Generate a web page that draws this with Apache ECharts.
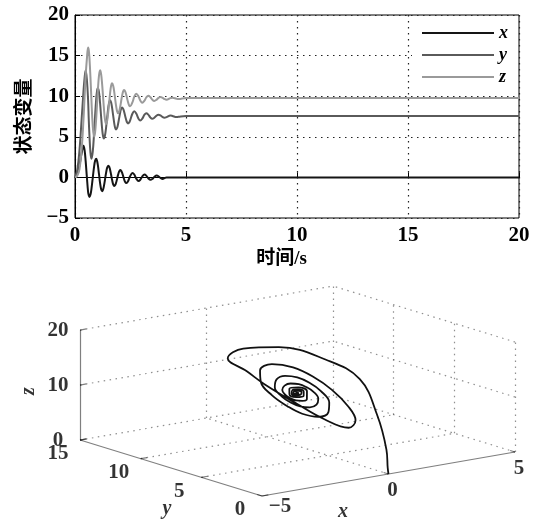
<!DOCTYPE html>
<html>
<head>
<meta charset="utf-8">
<script src="https://cdn.jsdelivr.net/npm/echarts@6/dist/echarts.min.js"></script>
<style>
  html, body { margin: 0; padding: 0; background: #fff; }
  #chart { width: 546px; height: 519px; }
</style>
</head>
<body>
<div id="chart"></div>
<script>
// time samples (s) and state values
const timeS = [0, 0.1, 0.2, 0.3, 0.38, 0.43, 0.48, 0.535, 0.59, 0.62,
  0.65, 0.695, 0.74, 0.8, 0.86, 0.905, 0.95, 0.99, 1.03, 1.08,
  1.13, 1.175, 1.22, 1.26, 1.3, 1.35, 1.4, 1.45, 1.5, 1.54,
  1.58, 1.625, 1.67, 1.72, 1.77, 1.81, 1.85, 1.895, 1.94, 1.99,
  2.04, 2.08, 2.12, 2.165, 2.21, 2.26, 2.31, 2.35, 2.39, 2.435, 2.48,
  2.59, 2.67, 2.76, 2.86, 2.94, 3.03, 3.13, 3.21, 3.3, 3.4, 3.48, 3.57,
  3.68, 3.76, 3.85, 3.95, 4.03, 4.12, 4.3, 4.39, 4.57, 4.66, 5, 20];
const stateX = [0, 0.4, 1.5, 3.0, 3.9, 3.38, 2.0, 0.03, -1.8, -2.21,
  -2.4, -2.14, -1.43, -0.05, 1.33, 2.04, 2.3, 2.09, 1.5, 0.42,
  -0.7, -1.43, -1.7, -1.54, -1.11, -0.3, 0.56, 1.21, 1.45, 1.32,
  0.95, 0.35, -0.3, -0.85, -1.05, -0.95, -0.66, -0.19, 0.31, 0.74,
  0.9, 0.81, 0.58, 0.19, -0.22, -0.57, -0.7, -0.64, -0.47, -0.18, 0.13,
  0.55, 0.35, -0.15, -0.45, -0.29, 0.11, 0.35, 0.22, -0.1, -0.3, -0.2, 0.05,
  0.22, 0.14, -0.07, -0.2, -0.08, 0, 0, 0, 0, 0, 0, 0];
const stateY = [0, 0.9, 3.3, 7.2, 10.5, 12.2, 13.2, 12.04, 9.5, 7.1,
  5.22, 3.09, 2.3, 3.18, 5.49, 7.59, 9.46, 10.6, 11.0, 10.49,
  9.13, 7.54, 6.05, 5.13, 4.8, 5.16, 6.13, 7.41, 8.62, 9.27,
  9.5, 9.26, 8.6, 7.6, 6.62, 6.09, 5.9, 6.08, 6.58, 7.33,
  8.06, 8.46, 8.6, 8.47, 8.11, 7.57, 7.04, 6.75, 6.65, 6.74, 7.0,
  7.87, 8.15, 7.86, 7.23, 7.0, 7.23, 7.72, 7.9, 7.73, 7.36, 7.22, 7.34,
  7.63, 7.72, 7.63, 7.42, 7.35, 7.42, 7.62, 7.57, 7.43, 7.47, 7.55, 7.55];
const stateZ = [0, 0.2, 1.0, 3.5, 7.0, 9.8, 12.5, 14.6, 16.0, 15.67,
  14.71, 12.38, 9.54, 6.29, 5.0, 5.55, 7.05, 8.86, 10.72, 12.53,
  13.2, 12.76, 11.55, 10.09, 8.59, 7.14, 6.6, 7.01, 8.11, 9.25,
  10.35, 11.27, 11.6, 11.3, 10.48, 9.64, 8.83, 8.15, 7.9, 8.13,
  8.76, 9.41, 10.04, 10.56, 10.75, 10.59, 10.15, 9.69, 9.25, 8.88, 8.75,
  9.27, 9.94, 10.3, 9.97, 9.48, 9.2, 9.46, 9.84, 10.05, 9.86, 9.58, 9.42,
  9.58, 9.79, 9.9, 9.8, 9.65, 9.56, 9.76, 9.82, 9.69, 9.64, 9.77, 9.77];
const seriesNames = ['x', 'y', 'z'];
const seriesColors = ['#151515', '#5a5a5a', '#9a9a9a'];

// 3D box ticks
const boxX = [-5, 0, 5];
const boxY = [0, 5, 10, 15];
const boxZ = [0, 10, 20];

const serif = "'Liberation Serif', 'Times New Roman', serif";
const mixed = "'Liberation Serif', 'Noto Sans CJK SC', sans-serif";

// oblique projection of the 3D view, in screen pixels
const origin = [262, 496];          // (x=-5, y=0, z=0)
const ux = [25.3, -4.4];
const uy = [-12.13, -3.73];
const uz = [0, -5.5];
function proj(x, y, z) {
  const dx = x - boxX[0];
  return [origin[0] + dx * ux[0] + y * uy[0] + z * uz[0],
          origin[1] + dx * ux[1] + y * uy[1] + z * uz[1]];
}

const x0 = boxX[0], x1 = boxX[boxX.length - 1];
const y0 = boxY[0], y1 = boxY[boxY.length - 1];
const z0 = boxZ[0], z1 = boxZ[boxZ.length - 1];

// dotted grid on floor and the two back walls
const dotted = [];
const seg = (list, a, b) => list.push({ coords: [proj(...a), proj(...b)] });
boxX.forEach(x => { if (x !== x0) seg(dotted, [x, y0, z0], [x, y1, z0]); });
boxY.forEach(y => { if (y !== y0) seg(dotted, [x0, y, z0], [x1, y, z0]); });
boxX.forEach(x => { if (x !== x0) seg(dotted, [x, y1, z0], [x, y1, z1]); });
boxZ.forEach(z => { if (z !== z0) seg(dotted, [x0, y1, z], [x1, y1, z]); });
boxY.forEach(y => { if (y !== y1) seg(dotted, [x1, y, z0], [x1, y, z1]); });
boxZ.forEach(z => { if (z !== z0) seg(dotted, [x1, y0, z], [x1, y1, z]); });

// solid axes and ticks
const solid = [];
seg(solid, [x0, y1, z0], [x0, y1, z1]);
seg(solid, [x0, y0, z0], [x0, y1, z0]);
seg(solid, [x0, y0, z0], [x1, y0, z0]);
boxZ.forEach(z => seg(solid, [x0, y1, z], [x0 + 0.25, y1, z]));
boxY.forEach(y => seg(solid, [x0, y, z0], [x0 + 0.25, y, z0]));
boxX.forEach(x => seg(solid, [x, y0, z0], [x, y0 + 0.4, z0]));

const trajectory = timeS.map((t, i) => proj(stateX[i], stateY[i], stateZ[i]));

const fmt = v => (v < 0 ? '\u2212' + Math.abs(v) : String(v));
const labels = [];
boxZ.forEach(z => labels.push({ value: proj(x0, y1, z), label: { formatter: fmt(z), offset: [-22, 1] } }));
boxY.forEach(y => labels.push({ value: proj(x0, y, z0), label: { formatter: fmt(y), offset: [-22, 14] } }));
boxX.forEach(x => labels.push({ value: proj(x, y0, z0), label: { formatter: fmt(x), offset: [x < 0 ? 18 : 4, x < 0 ? 11 : 17] } }));
const nameStyle = { fontStyle: 'italic', fontSize: 20 };
// rotated label: offset is given in the rotated frame
labels.push({ value: proj(x0, y1, 10), label: Object.assign({ formatter: 'z', offset: [-6, -51], rotate: 90 }, nameStyle) });
labels.push({ value: proj(x0, 7.5, z0), label: Object.assign({ formatter: 'y', offset: [-4, 41] }, nameStyle) });
labels.push({ value: proj(-1.8, y0, z0), label: Object.assign({ formatter: 'x', offset: [0, 30] }, nameStyle) });

const dotStyle = { color: '#222', width: 1.2, type: [1.5, 4.5] };
const tickFont = { color: '#000', fontFamily: serif, fontWeight: 'bold', fontSize: 21 };

const chart = echarts.init(document.getElementById('chart'));
chart.setOption({
  backgroundColor: '#fff',
  animation: false,
  grid: [
    { left: 75, top: 15, width: 444, height: 203, show: true, borderColor: '#000', borderWidth: 1 },
    { left: 0, top: 0, width: 546, height: 519 }
  ],
  legend: {
    data: seriesNames,
    orient: 'vertical',
    left: 412,
    top: 19,
    padding: [4, 10, 6, 10],
    backgroundColor: '#fff',
    icon: 'rect',
    itemWidth: 72,
    itemHeight: 2,
    itemGap: 2,
    textStyle: { color: '#000', fontFamily: serif, fontStyle: 'italic', fontWeight: 'bold', fontSize: 18, lineHeight: 20 }
  },
  xAxis: [
    {
      gridIndex: 0, type: 'value', min: 0, max: 20, interval: 5,
      axisLine: { lineStyle: { color: '#000' } },
      axisTick: { inside: true, length: 5, lineStyle: { color: '#000' } },
      axisLabel: Object.assign({ margin: 7 }, tickFont),
      splitLine: { show: true, lineStyle: dotStyle },
      name: '时间/s', nameLocation: 'middle', nameGap: 32,
      nameTextStyle: { color: '#000', fontFamily: mixed, fontWeight: 'bold', fontSize: 19, padding: [0, 31, 0, 0] }
    },
    { gridIndex: 1, type: 'value', min: 0, max: 546, show: false }
  ],
  yAxis: [
    {
      gridIndex: 0, type: 'value', min: -5, max: 20, interval: 5,
      axisLine: { lineStyle: { color: '#000' } },
      axisTick: { inside: true, length: 5, lineStyle: { color: '#000' } },
      axisLabel: Object.assign({ margin: 6, formatter: fmt }, tickFont),
      splitLine: { show: true, lineStyle: dotStyle },
      name: '状态变量', nameLocation: 'middle', nameGap: 40,
      nameTextStyle: { color: '#000', fontFamily: mixed, fontWeight: 'bold', fontSize: 19 }
    },
    { gridIndex: 1, type: 'value', min: 0, max: 519, inverse: true, show: false }
  ],
  series: [
    ...[stateX, stateY, stateZ].map((vals, k) => ({
      name: seriesNames[k],
      type: 'line',
      xAxisIndex: 0, yAxisIndex: 0,
      data: timeS.map((t, i) => [t, vals[i]]),
      smooth: 0.4,
      symbol: 'none',
      lineStyle: { color: seriesColors[k], width: 2 },
      itemStyle: { color: seriesColors[k] }
    })),
    {
      type: 'lines', coordinateSystem: 'cartesian2d', xAxisIndex: 1, yAxisIndex: 1,
      data: dotted, lineStyle: dotStyle, silent: true
    },
    {
      type: 'lines', coordinateSystem: 'cartesian2d', xAxisIndex: 1, yAxisIndex: 1,
      data: solid, lineStyle: { color: '#000', width: 1.2 }, silent: true
    },
    {
      type: 'line', xAxisIndex: 1, yAxisIndex: 1,
      data: trajectory, smooth: 0.4, symbol: 'none',
      lineStyle: { color: '#111', width: 1.8 }, silent: true
    },
    {
      type: 'scatter', xAxisIndex: 1, yAxisIndex: 1,
      data: labels, symbolSize: 1, itemStyle: { color: 'rgba(0,0,0,0)' }, silent: true,
      label: Object.assign({ show: true, position: 'inside' }, tickFont)
    }
  ]
});
</script>
</body>
</html>
